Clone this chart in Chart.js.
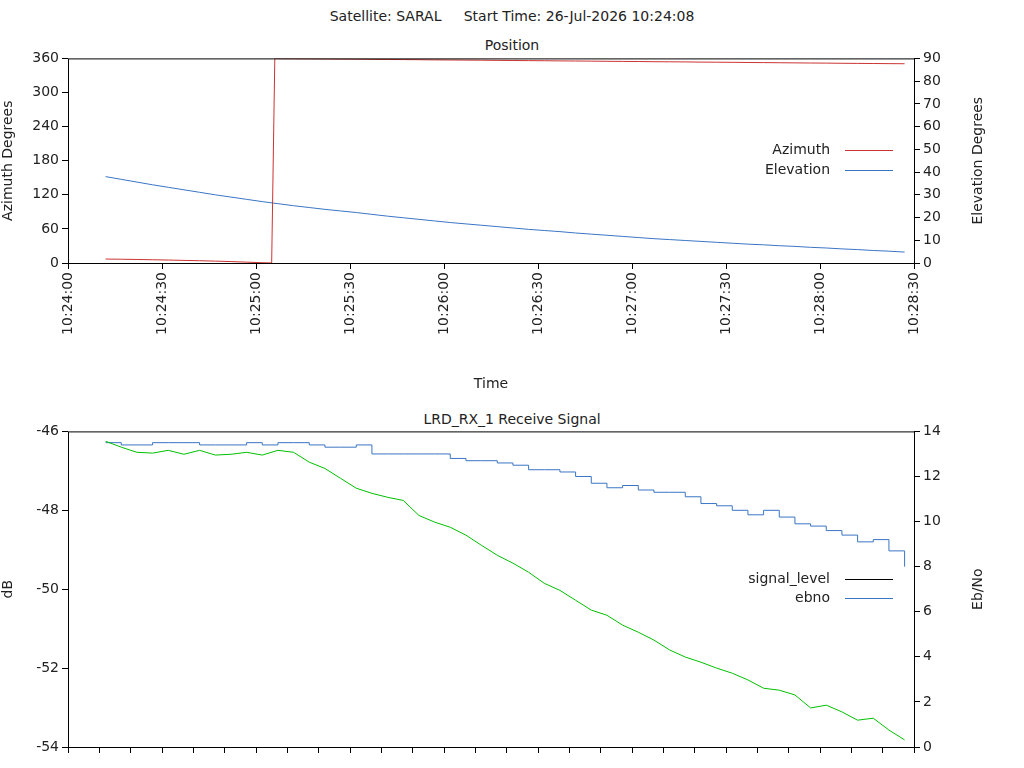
<!DOCTYPE html>
<html lang="en">
<head>
  <title>Satellite pass</title>
  <style>
    body { margin:0; background:#fff; font-family:"DejaVu Sans", sans-serif; }
    .t { position:absolute; width:1024px; left:0; text-align:center; font-size:14px; color:#222; }
    canvas { position:absolute; left:0; }
  </style>
</head>
<body>
  <div class="t" style="top:8px">Satellite: SARAL&nbsp;&nbsp;&nbsp;&nbsp; Start Time: 26-Jul-2026 10:24:08</div>
  <div class="t" style="top:37px">Position</div>
  <div class="t" style="top:411px">LRD_RX_1 Receive Signal</div>
  <div style="position:absolute;left:0;top:47px;width:1024px;height:350px"><canvas id="pos"></canvas></div>
  <div style="position:absolute;left:0;top:420px;width:1024px;height:348px"><canvas id="sig"></canvas></div>
  <script src="https://cdn.jsdelivr.net/npm/chart.js"></script>
  <script>
    // seconds after 10:24:00
    const times = [12,17,22,27,32,37,42,47,52,57,62,67,72,77,82,87,92,97,102,107,112,117,122,127,132,137,142,147,152,157,162,167,172,177,182,187,192,197,202,207,212,217,222,227,232,237,242,247,252,257,262,267]
    const azTimes = [12,17,22,27,32,37,42,47,52,57,62,65,66,67,72,77,82,87,92,97,102,107,112,117,122,127,132,137,142,147,152,157,162,167,172,177,182,187,192,197,202,207,212,217,222,227,232,237,242,247,252,257,262,267]
    const azimuth = [7.0,6.6,6.2,5.7,5.2,4.6,4.0,3.3,2.5,1.5,0.5,0.1,359.9,
      359.6,359.4,359.2,359.0,358.8,358.6,358.3,358.1,357.9,357.7,357.4,357.2,357.0,356.8,356.5,356.3,356.1,355.9,355.6,355.4,355.2,354.9,354.7,354.5,354.2,354.0,353.8,353.5,353.3,353.1,352.8,352.6,352.4,352.1,351.9,351.7,351.4,351.2,351.0,350.8,350.6]
    const elevation = [38.0,36.8,35.6,34.4,33.3,32.2,31.1,30.0,29.0,28.0,27.0,26.1,25.2,24.4,23.6,22.9,22.2,21.4,20.6,19.9,19.2,18.5,17.8,17.2,16.6,16.0,15.4,14.8,14.3,13.8,13.2,12.7,12.2,11.7,11.2,10.7,10.3,9.9,9.5,9.1,8.7,8.3,8.0,7.6,7.3,6.9,6.6,6.2,5.9,5.5,5.2,4.8]
    const signalLevel = [-46.25,-46.4,-46.53,-46.55,-46.48,-46.58,-46.48,-46.6,-46.58,-46.53,-46.6,-46.48,-46.53,-46.78,-46.94,-47.19,-47.44,-47.57,-47.67,-47.75,-48.13,-48.3,-48.43,-48.63,-48.89,-49.14,-49.34,-49.57,-49.85,-50.03,-50.28,-50.53,-50.66,-50.91,-51.09,-51.29,-51.54,-51.72,-51.85,-52.0,-52.13,-52.3,-52.51,-52.56,-52.68,-53.01,-52.94,-53.11,-53.32,-53.27,-53.57,-53.82]
    const ebno = [13.5,13.4,13.4,13.5,13.5,13.5,13.4,13.4,13.4,13.5,13.4,13.5,13.5,13.4,13.3,13.3,13.4,13.0,13.0,13.0,13.0,13.0,12.8,12.7,12.7,12.6,12.5,12.3,12.3,12.2,12.0,11.7,11.5,11.6,11.4,11.3,11.3,11.1,10.8,10.7,10.5,10.3,10.5,10.2,9.9,9.8,9.6,9.4,9.1,9.2,8.7,8.0]
    const timeTicks = ['10:24:00','10:24:30','10:25:00','10:25:30','10:26:00','10:26:30','10:27:00','10:27:30','10:28:00','10:28:30']

    const pts = (arr, ts) => arr.map((v, i) => ({x: (ts || times)[i], y: v}))
    const font = {family: 'DejaVu Sans', size: 14}
    Chart.defaults.color = '#222'
    Chart.defaults.font = font

    function fixW(w) { return s => { s.width = w } }
    function fixH(h) { return s => { s.height = h } }

    function boxAndLegend(items, top, rightTitle) {
      return {
        id: 'box',
        afterDraw(chart) {
          const c = chart.ctx, a = chart.chartArea
          c.save()
          c.strokeStyle = '#000'; c.lineWidth = 1
          c.strokeRect(a.left + 0.5, a.top + 0.5, a.right - a.left, a.bottom - a.top)
          c.font = '14px "DejaVu Sans"'; c.textAlign = 'right'; c.textBaseline = 'middle'
          items.forEach(it => {
            c.fillStyle = '#222'
            c.fillText(it.label, 830, it.y - top)
            c.strokeStyle = it.color
            c.beginPath(); c.moveTo(845, it.y - top + 0.5); c.lineTo(893, it.y - top + 0.5); c.stroke()
          })
          // right axis title, reading bottom to top
          c.translate(978, (a.top + a.bottom) / 2)
          c.rotate(-Math.PI / 2)
          c.textAlign = 'center'
          c.fillText(rightTitle, 0, 0)
          c.restore()
        }
      }
    }

    const noGrid = {drawOnChartArea: false, color: '#000', tickLength: 6}

    new Chart(document.getElementById('pos'), {
      type: 'line',
      data: {datasets: [
        {label: 'Azimuth', data: pts(azimuth, azTimes), borderColor: '#cc3333', borderWidth: 1, pointRadius: 0, yAxisID: 'y'},
        {label: 'Elevation', data: pts(elevation), borderColor: '#3a75c4', borderWidth: 1, pointRadius: 0, yAxisID: 'y2'}
      ]},
      options: {
        responsive: true, maintainAspectRatio: false, animation: false,
        layout: {padding: {top: 10}},
        plugins: {legend: {display: false}, tooltip: {enabled: false}},
        scales: {
          x: {type: 'linear', min: 0, max: 270, afterFit: fixH(134), grid: noGrid, border: {display: false},
            afterBuildTicks: s => { s.ticks = timeTicks.map((_, i) => ({value: i * 30})) },
            ticks: {minRotation: 90, maxRotation: 90, callback: (v) => timeTicks[v / 30]},
            title: {display: true, text: 'Time', font: font, padding: {top: 14}}},
          y: {position: 'left', min: 0, max: 360, afterFit: fixW(68), grid: noGrid, border: {display: false},
            ticks: {stepSize: 60},
            title: {display: true, text: 'Azimuth Degrees', font: font, padding: 0}},
          y2: {position: 'right', min: 0, max: 90, afterFit: fixW(110), grid: noGrid, border: {display: false},
            ticks: {stepSize: 10}}
        }
      },
      plugins: [boxAndLegend([{label: 'Azimuth', y: 150, color: '#cc3333'}, {label: 'Elevation', y: 170, color: '#3a75c4'}], 47, 'Elevation Degrees')]
    })

    new Chart(document.getElementById('sig'), {
      type: 'line',
      data: {datasets: [
        {label: 'signal_level', data: pts(signalLevel), borderColor: '#00c000', borderWidth: 1, pointRadius: 0, yAxisID: 'y'},
        {label: 'ebno', data: pts(ebno), borderColor: '#3a75c4', borderWidth: 1, pointRadius: 0, stepped: true, yAxisID: 'y2'}
      ]},
      options: {
        responsive: true, maintainAspectRatio: false, animation: false,
        layout: {padding: {top: 11}},
        plugins: {legend: {display: false}, tooltip: {enabled: false}},
        scales: {
          x: {type: 'linear', min: 0, max: 270, afterFit: fixH(21), grid: noGrid, border: {display: false},
            ticks: {stepSize: 10, display: false}},
          y: {position: 'left', min: -54, max: -46, afterFit: fixW(68), grid: noGrid, border: {display: false},
            ticks: {stepSize: 2},
            title: {display: true, text: 'dB', font: font, padding: 0}},
          y2: {position: 'right', min: 0, max: 14, afterFit: fixW(110), grid: noGrid, border: {display: false},
            ticks: {stepSize: 2}}
        }
      },
      plugins: [boxAndLegend([{label: 'signal_level', y: 579, color: '#000'}, {label: 'ebno', y: 598, color: '#3a75c4'}], 420, 'Eb/No')]
    })
  </script>
</body>
</html>
